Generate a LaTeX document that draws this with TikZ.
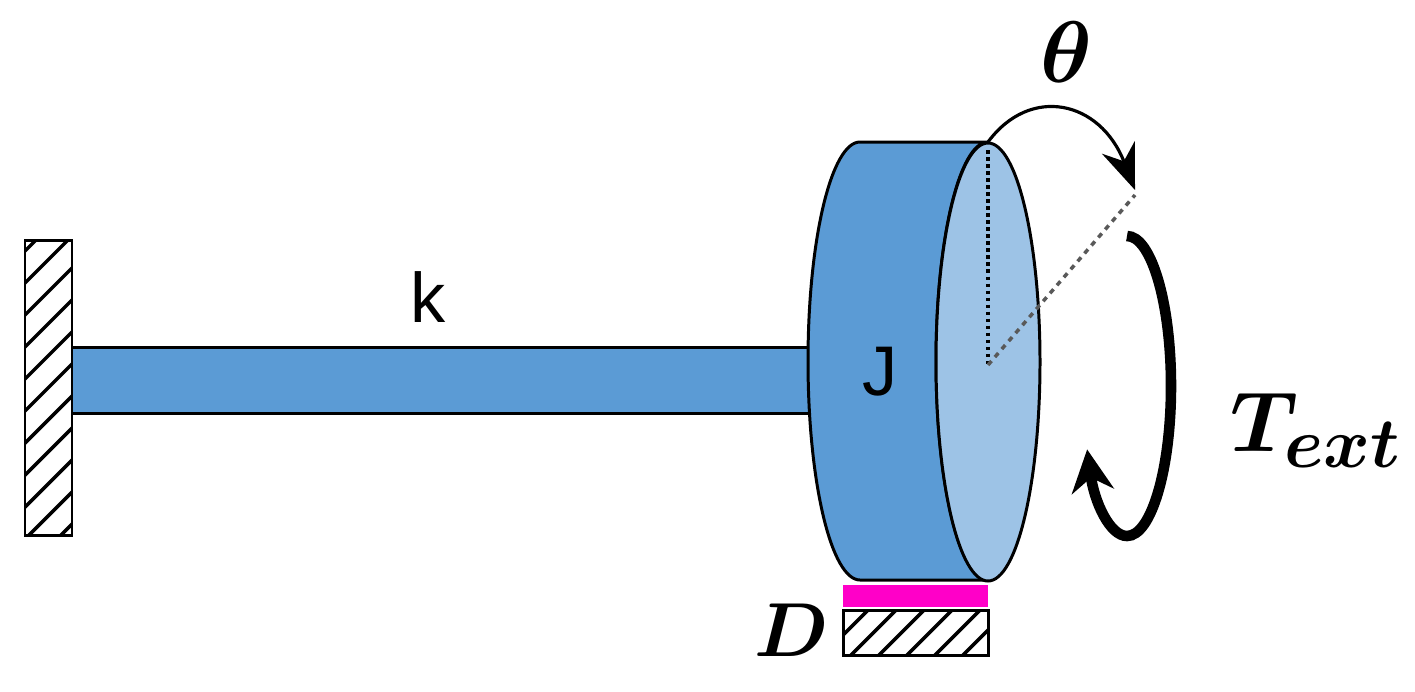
\documentclass[tikz,border=0pt]{standalone}
\usepackage{amsmath,bm}
\usepackage{fontspec}
\newfontfamily\lsans{Liberation Sans}
\usetikzlibrary{arrows.meta}
\definecolor{side}{RGB}{91,155,213}
\definecolor{face}{RGB}{157,195,230}
\definecolor{damp}{RGB}{255,0,200}
\begin{document}
\begin{tikzpicture}[x=0.02cm,y=-0.02cm,
  outl/.style={draw=black,line width=1.7pt},
  hatch/.style={draw=black,line width=1.7pt},
  mlbl/.style={font=\fontsize{24.88}{30}\selectfont}]
\useasboundingbox (0,0) rectangle (1415,691);
% wall
\begin{scope}
\clip (25,240) rectangle (72,535);
\foreach \i in {-60,-28,...,560} \draw[line width=2pt] (20,\i+60) -- (80,\i);
\end{scope}
\draw[hatch] (25,240) rectangle (72,535);
% shaft
\draw[outl,fill=side] (72,347) rectangle (815,413);
\node[font=\lsans\fontsize{40}{46}\selectfont] (k) at (428,297) {k};
% disk side
\draw[outl,fill=side] (860,142) arc[start angle=-90,end angle=-270,x radius=52,y radius=219]
  -- (988,580) arc[start angle=90,end angle=270,x radius=52,y radius=219] -- cycle;
\draw[outl,fill=face] (988,362) ellipse[x radius=52,y radius=219];
\node[font=\lsans\fontsize{40}{46}\selectfont] (J) at (880,372) {J};
\coordinate (c) at (988,365);
\coordinate (top) at (988,142);
\coordinate (tip) at (1135,195);
\draw[line width=2pt,dotted] (988,150) -- (c);
\draw[line width=2pt,dashed,black!65] (c) -- (tip);
% theta arrow
\draw[line width=1.8pt,-{Stealth[length=26pt,width=20pt]}] (top) .. controls (1030,85) and (1100,100) .. (1135,190);
\node[mlbl] (th) at (1066,52) {\scalebox{2.0}{$\bm{\theta}$}};
% T_ext arrow
\draw[line width=6pt,-{Stealth[length=24pt,width=24pt]}] (1127,236) arc[start angle=-90,end angle=155,x radius=44,y radius=150];
\node[mlbl,anchor=west,inner sep=0] (T) at (1230,430) {\scalebox{1.95}{$\bm{T_{ext}}$}};
% damper
\fill[damp] (843,585) rectangle (988,607);
\begin{scope}
\clip (843,610) rectangle (988,655);
\foreach \i in {790,818,...,1020} \draw[line width=2pt] (\i,660) -- (\i+55,605);
\end{scope}
\draw[hatch] (843,610) rectangle (988,655);
\node[mlbl] (D) at (792,630) {\scalebox{1.75}{$\bm{D}$}};
\end{tikzpicture}
\end{document}
